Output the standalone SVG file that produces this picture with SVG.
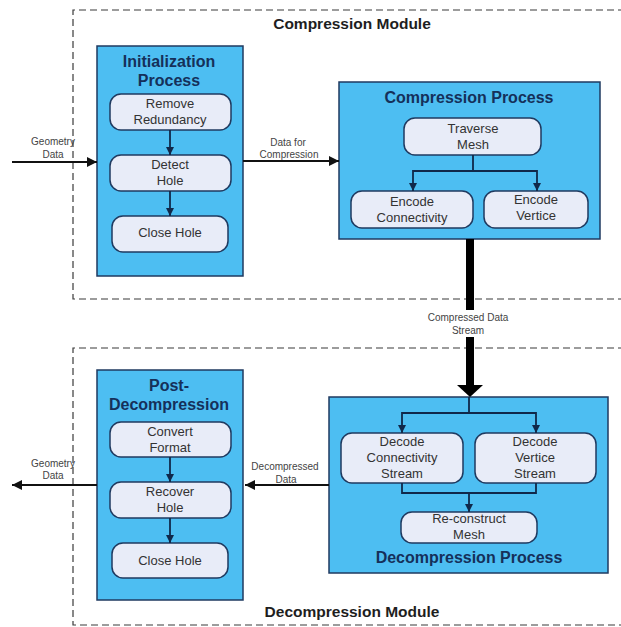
<svg xmlns="http://www.w3.org/2000/svg" width="621" height="627" viewBox="0 0 621 627">
  <defs>
    <style>
      .module { fill: none; stroke: #3a3a3a; stroke-width: 1.2; stroke-dasharray: 7 4; }
      .modlabel { font-family: "Liberation Sans", Arial, sans-serif; font-weight: bold; font-size: 15.5px; fill: #1e1e1e; text-anchor: middle; }
      .process { fill: #4dbef2; stroke: #1f3a60; stroke-width: 1.5; }
      .ptitle { font-family: "Liberation Sans", Arial, sans-serif; font-weight: bold; font-size: 16px; fill: #15305a; text-anchor: middle; }
      .step { fill: #e8ecf8; stroke: #1f3a60; stroke-width: 1.5; }
      .stext { font-family: "Liberation Sans", Arial, sans-serif; font-size: 13px; fill: #333; text-anchor: middle; }
      .elabel { font-family: "Liberation Sans", Arial, sans-serif; font-size: 10px; fill: #444; text-anchor: middle; }
      .flow { fill: none; stroke: #111; stroke-width: 2; }
      .inner { fill: none; stroke: #10284a; stroke-width: 1.8; }
    </style>
    <marker id="ah-black" viewBox="0 0 10 10" refX="10" refY="5" markerWidth="6" markerHeight="5" markerUnits="strokeWidth" orient="auto">
      <path d="M0,0 L10,5 L0,10 z" fill="#111"/>
    </marker>
    <marker id="ah-navy" viewBox="0 0 10 10" refX="10" refY="5" markerWidth="5" markerHeight="4.5" markerUnits="strokeWidth" orient="auto">
      <path d="M0,0 L10,5 L0,10 z" fill="#10284a"/>
    </marker>
  </defs>

  <rect width="621" height="627" fill="#ffffff"/>

  <!-- module frames (open on the right edge) -->
  <g id="compression-module">
    <path class="module" d="M625,10 H73 V299 H625"/>
    <text class="modlabel" x="352" y="29">Compression Module</text>
  </g>
  <g id="decompression-module">
    <path class="module" d="M625,348 H73 V625 H625"/>
    <text class="modlabel" x="352" y="617">Decompression Module</text>
  </g>

  <!-- Initialization process -->
  <g id="initialization-process">
    <rect class="process" x="97" y="46" width="146" height="230"/>
    <text class="ptitle" x="169" y="67">Initialization</text>
    <text class="ptitle" x="169" y="86">Process</text>
  </g>
  <g id="remove-redundancy">
    <rect class="step" x="110" y="94" width="121" height="36" rx="11"/>
    <text class="stext" x="170" y="108">Remove</text>
    <text class="stext" x="170" y="124">Redundancy</text>
  </g>
  <g id="detect-hole">
    <rect class="step" x="110" y="155" width="121" height="36" rx="11"/>
    <text class="stext" x="170" y="169">Detect</text>
    <text class="stext" x="170" y="185">Hole</text>
  </g>
  <g id="close-hole-init">
    <rect class="step" x="112" y="216" width="116" height="36" rx="11"/>
    <text class="stext" x="170" y="237">Close Hole</text>
  </g>

  <!-- Compression process -->
  <g id="compression-process">
    <rect class="process" x="339" y="82" width="261" height="157"/>
    <text class="ptitle" x="469" y="103">Compression Process</text>
  </g>
  <g id="traverse-mesh">
    <rect class="step" x="404" y="118" width="137" height="37" rx="11"/>
    <text class="stext" x="473" y="133">Traverse</text>
    <text class="stext" x="473" y="149">Mesh</text>
  </g>
  <g id="encode-connectivity">
    <rect class="step" x="351" y="191" width="122" height="37" rx="11"/>
    <text class="stext" x="412" y="206">Encode</text>
    <text class="stext" x="412" y="222">Connectivity</text>
  </g>
  <g id="encode-vertice">
    <rect class="step" x="484" y="191" width="104" height="37" rx="11"/>
    <text class="stext" x="536" y="204">Encode</text>
    <text class="stext" x="536" y="220">Vertice</text>
  </g>

  <!-- Decompression process -->
  <g id="decompression-process">
    <rect class="process" x="329" y="397" width="279" height="176"/>
    <text class="ptitle" x="469" y="563">Decompression Process</text>
  </g>
  <g id="decode-connectivity">
    <rect class="step" x="341" y="433" width="122" height="50" rx="11"/>
    <text class="stext" x="402" y="446">Decode</text>
    <text class="stext" x="402" y="462">Connectivity</text>
    <text class="stext" x="402" y="478">Stream</text>
  </g>
  <g id="decode-vertice">
    <rect class="step" x="475" y="433" width="121" height="50" rx="11"/>
    <text class="stext" x="535" y="446">Decode</text>
    <text class="stext" x="535" y="462">Vertice</text>
    <text class="stext" x="535" y="478">Stream</text>
  </g>
  <g id="reconstruct-mesh">
    <rect class="step" x="401" y="512" width="136" height="31" rx="11"/>
    <text class="stext" x="469" y="523">Re-construct</text>
    <text class="stext" x="469" y="539">Mesh</text>
  </g>

  <!-- Post-decompression -->
  <g id="post-decompression">
    <rect class="process" x="97" y="370" width="146" height="230"/>
    <text class="ptitle" x="169" y="391">Post-</text>
    <text class="ptitle" x="169" y="410">Decompression</text>
  </g>
  <g id="convert-format">
    <rect class="step" x="110" y="422" width="121" height="35" rx="11"/>
    <text class="stext" x="170" y="436">Convert</text>
    <text class="stext" x="170" y="452">Format</text>
  </g>
  <g id="recover-hole">
    <rect class="step" x="110" y="482" width="121" height="36" rx="11"/>
    <text class="stext" x="170" y="496">Recover</text>
    <text class="stext" x="170" y="512">Hole</text>
  </g>
  <g id="close-hole-post">
    <rect class="step" x="112" y="543" width="116" height="35" rx="11"/>
    <text class="stext" x="170" y="565">Close Hole</text>
  </g>

  <!-- connectors -->
  <g id="connectors">
    <!-- module-level data flow -->
    <line class="flow" x1="12" y1="162" x2="97" y2="162" marker-end="url(#ah-black)"/>
    <text class="elabel" x="53" y="145">Geometry</text>
    <text class="elabel" x="53" y="158">Data</text>

    <line class="flow" x1="243" y1="161" x2="339" y2="161" marker-end="url(#ah-black)"/>
    <text class="elabel" x="288" y="146">Data for</text>
    <text class="elabel" x="289" y="158">Compression</text>

    <line class="flow" x1="329" y1="485" x2="245" y2="485" marker-end="url(#ah-black)"/>
    <text class="elabel" x="285" y="470">Decompressed</text>
    <text class="elabel" x="286" y="483">Data</text>

    <line class="flow" x1="97" y1="485" x2="12" y2="485" marker-end="url(#ah-black)"/>
    <text class="elabel" x="53" y="467">Geometry</text>
    <text class="elabel" x="53" y="479">Data</text>

    <!-- compressed stream between modules -->
    <path d="M470,239 V310 M470,337 V386" fill="none" stroke="#000" stroke-width="8"/>
    <polygon points="457,385 483,385 470,397" fill="#000"/>
    <text class="elabel" x="468" y="321">Compressed Data</text>
    <text class="elabel" x="468" y="334">Stream</text>

    <!-- initialization steps -->
    <line class="inner" x1="170" y1="130" x2="170" y2="155" marker-end="url(#ah-navy)"/>
    <line class="inner" x1="170" y1="191" x2="170" y2="216" marker-end="url(#ah-navy)"/>

    <!-- compression steps -->
    <path class="inner" d="M473,155 V171 H413 V191" marker-end="url(#ah-navy)"/>
    <path class="inner" d="M473,171 H537 V191" marker-end="url(#ah-navy)"/>

    <!-- decompression steps -->
    <path class="inner" d="M469,397 V413 H402 V433" marker-end="url(#ah-navy)"/>
    <path class="inner" d="M469,413 H536 V433" marker-end="url(#ah-navy)"/>
    <path class="inner" d="M402,483 V493 H536 V483"/>
    <line class="inner" x1="469" y1="493" x2="469" y2="512" marker-end="url(#ah-navy)"/>

    <!-- post-decompression steps -->
    <line class="inner" x1="170" y1="457" x2="170" y2="482" marker-end="url(#ah-navy)"/>
    <line class="inner" x1="170" y1="518" x2="170" y2="543" marker-end="url(#ah-navy)"/>
  </g>
</svg>
